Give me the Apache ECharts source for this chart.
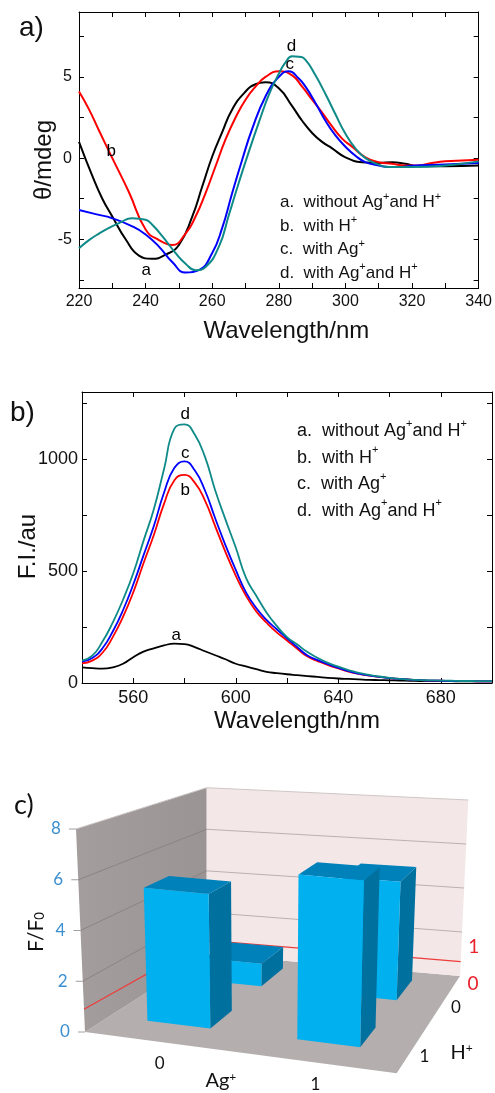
<!DOCTYPE html>
<html>
<head>
<meta charset="utf-8">
<script src="https://cdn.jsdelivr.net/npm/echarts@6/dist/echarts.min.js"></script>
<style>
html, body { margin: 0; padding: 0; background: #fff; }
#main { width: 495px; height: 1093px; }
</style>
</head>
<body>
<div id="main"></div>
<script>
// ---- a) CD spectra  [wavelength nm, theta mdeg]
var cdA = [[220,1.0],[224,-1.1],[227,-2.5],[230,-3.6],[234,-5.0],[238,-6.0],[242,-6.2],[246,-5.95],[250,-5.35],
  [254,-3.6],[257,-1.75],[260,0.1],[263,1.6],[266,3.0],[270,4.1],[273,4.55],[276,4.67],[280,4.3],[284,3.2],
  [287,2.3],[290,1.55],[293,1.0],[296,0.6],[300,0.05],[305,-0.25],[310,-0.3],[314,-0.25],[318,-0.35],[322,-0.5],
  [330,-0.5],[340,-0.45]];
var cdB = [[220,4.1],[223,3.0],[226,1.7],[230,0.0],[235,-2.1],[240,-4.4],[244,-5.05],[248,-5.35],[252,-4.65],
  [255,-3.6],[258,-2.15],[261,-0.5],[264,1.15],[267,2.5],[270,3.6],[273,4.4],[276,5.0],[280,5.35],[284,5.1],
  [287,4.4],[290,3.6],[293,2.8],[296,1.95],[299,1.2],[302,0.7],[306,0.05],[310,-0.25],[314,-0.35],[318,-0.45],
  [322,-0.45],[326,-0.3],[330,-0.2],[340,-0.1]];
var cdC = [[220,-3.2],[225,-3.45],[230,-3.7],[236,-4.2],[240,-4.7],[244,-5.45],[248,-6.4],[252,-7.05],[256,-6.9],
  [260,-5.85],[263,-4.3],[266,-2.15],[269,-0.1],[272,1.8],[276,3.8],[280,5.0],[283,5.35],[286,4.9],[288,4.4],
  [291,3.4],[294,2.3],[297,1.4],[300,0.7],[303,0.15],[306,-0.25],[310,-0.45],[313,-0.55],[316,-0.55],[320,-0.47],
  [330,-0.4],[340,-0.3]];
var cdD = [[220,-5.55],[223,-5.05],[226,-4.65],[229,-4.3],[232,-4.0],[236,-3.7],[240,-3.8],[242,-4.1],[245,-4.8],
  [249,-5.85],[252,-6.5],[255,-6.9],[258,-6.7],[262,-5.45],[265,-3.5],[268,-1.5],[271,0.4],[274,2.2],[277,3.9],
  [280,5.2],[282,5.9],[284,6.27],[286,6.25],[288,6.05],[291,5.1],[294,3.95],[297,2.7],[300,1.5],[303,0.6],
  [306,0.0],[310,-0.4],[313,-0.55],[316,-0.55],[320,-0.55],[330,-0.45],[340,-0.2]];
var cdTickX = [220,230,240,250,260,270,280,290,300,310,320,330,340];
var cdLabelX = [220,240,260,280,300,320,340];
var cdTickY = [-7.5,-5,-2.5,0,2.5,5,7.5];
var cdLabelY = [-5,0,5];

// ---- b) fluorescence spectra
var flWave = [540,544,548,552,556,560,564,568,572,576,580,584,588,592,596,600,604,608,612,616,620,
  624,628,632,636,640,644,648,652,656,660,664,668,672,676,680,684,688,692,696,700];
var flA = [70,66,64,70,86,115,140,155,168,176,174,160,142,124,106,86,74,62,50,44,39,
  35,31,27,23,20,18,16,14,13,12,11,10,9,9,8,8,7,7,7,7];
var flB = [88,100,135,205,295,405,535,660,800,905,930,895,815,700,585,480,390,320,270,226,190,
  153,118,98,80,65,51,41,33,27,22,18,15,13,11,10,9,8,8,7,7];
var flC = [95,112,155,230,325,440,570,700,850,960,990,950,860,735,615,505,405,335,282,240,200,
  160,123,102,84,68,53,42,34,27,22,18,15,13,11,10,9,8,8,7,7];
var flD = [100,122,185,270,372,490,635,775,955,1135,1155,1110,1010,860,730,605,470,390,315,255,205,
  172,138,112,90,73,58,45,36,29,23,18,15,13,12,11,10,9,9,8,8];
var flTickX = [540,560,580,600,620,640,660,680,700];
var flLabelX = [560,600,640,680];
var flTickY = [0,250,500,750,1000,1250];
var flLabelY = [0,500,1000];

// ---- c) F/F0 bars  [Ag+ index, H+ index, F/F0], back row first
var agCats = ['0', '1'];
var hCats = ['0', '1'];
var ratioValues = [[0, 0, 1.0], [1, 0, 5.1], [0, 1, 5.4], [1, 1, 6.5]];
var ratioTicks = [0, 2, 4, 6, 8];
var refLevel = [0.9, 0.65, 0.65];   // red line: front-left, back-left, back-right

var legendText = {
  a: 'a.  without Ag{s|+}and H{s|+}',
  b: 'b.  with H{s|+}',
  c: 'c.  with Ag{s|+}',
  d: 'd.  with Ag{s|+}and H{s|+}'
};
var colors = { a: '#000000', b: '#ff0000', c: '#0000ff', d: '#0e8a88' };

var FONT = 'Liberation Sans';
var FONT_C = 'Lato';

// 3D box seen in perspective: screen corners at value 0 and at value vMax
var vMax = 8;
var box = {
  bl0: [206.7, 954], bl8: [206.7, 787.7],
  br0: [460, 976], br8: [468.3, 800],
  fl0: [85, 1032], fl8: [76, 829],
  fr0: [396.7, 1073.3], fr8: [403, 858]
};
var barSize = 0.21, barShiftX = -0.02, barShiftZ = -0.06;

function proj(X, Z, v) {
  var t = v / vMax;
  function c(p0, p8) { return [p0[0] + (p8[0] - p0[0]) * t, p0[1] + (p8[1] - p0[1]) * t]; }
  var bl = c(box.bl0, box.bl8), br = c(box.br0, box.br8);
  var fl = c(box.fl0, box.fl8), fr = c(box.fr0, box.fr8);
  var back = [bl[0] + (br[0] - bl[0]) * X, bl[1] + (br[1] - bl[1]) * X];
  var front = [fl[0] + (fr[0] - fl[0]) * X, fl[1] + (fr[1] - fl[1]) * X];
  return [back[0] + (front[0] - back[0]) * Z, back[1] + (front[1] - back[1]) * Z];
}

var chart = echarts.init(document.getElementById('main'));

function lineSeries(name, data, xi, yi, lw, label) {
  return {
    name: name, type: 'line', xAxisIndex: xi, yAxisIndex: yi,
    data: data, smooth: true, showSymbol: false, symbol: 'none',
    lineStyle: { color: colors[name.slice(-1)], width: lw },
    itemStyle: { color: colors[name.slice(-1)] },
    animation: false,
    markPoint: {
      symbol: 'circle', symbolSize: 0, animation: false,
      label: { show: true, formatter: name.slice(-1), color: '#000', fontSize: 17, fontFamily: FONT },
      data: [{ coord: label }]
    }
  };
}

function pairs(ys) { return flWave.map(function (w, i) { return [w, ys[i]]; }); }

function boxAxisX(grid, min, max, ticks, labels, pos, name, gap, pad) {
  return {
    gridIndex: grid, type: 'value', min: min, max: max, position: pos,
    axisLine: { show: true, onZero: false, lineStyle: { color: '#000', width: 1 } },
    axisTick: { show: true, inside: true, length: 5, customValues: ticks, lineStyle: { color: '#000' } },
    axisLabel: labels ? { show: true, customValues: labels, margin: 6, color: '#111', fontSize: grid === 0 ? 16 : 18, fontFamily: FONT,
      formatter: function (v) { return String(v); } } : { show: false },
    splitLine: { show: false },
    name: name || '', nameLocation: 'middle', nameGap: gap || 0, nameMoveOverlap: false,
    nameTextStyle: { fontSize: 24, fontFamily: FONT, color: '#111', padding: pad || 0 }
  };
}
function boxAxisY(grid, min, max, ticks, labels, pos, name, gap, pad) {
  return {
    gridIndex: grid, type: 'value', min: min, max: max, position: pos,
    axisLine: { show: true, onZero: false, lineStyle: { color: '#000', width: 1 } },
    axisTick: { show: true, inside: true, length: 5, customValues: ticks, lineStyle: { color: '#000' } },
    axisLabel: labels ? { show: true, customValues: labels, margin: grid === 0 ? 7 : 4, color: '#111', fontSize: grid === 0 ? 16 : 18, fontFamily: FONT,
      formatter: function (v) { return String(v); } } : { show: false },
    splitLine: { show: false },
    name: name || '', nameLocation: 'middle', nameGap: gap || 0, nameRotate: 90, nameMoveOverlap: false,
    nameTextStyle: { fontSize: 24, fontFamily: FONT, color: '#111', padding: pad || 0 }
  };
}

function renderFrame(params, api) {
  function P(X, Z, v) { return api.coord(proj(X, Z, v)); }
  var ch = [];
  ch.push({ type: 'polygon', shape: { points: [P(0, 0, 0), P(1, 0, 0), P(1, 1, 0), P(0, 1, 0)] },
    style: { fill: '#b4aeae' } });
  ch.push({ type: 'polygon', shape: { points: [P(0, 1, 0), P(0, 0, 0), P(0, 0, vMax), P(0, 1, vMax)] },
    style: { fill: new echarts.graphic.LinearGradient(0, 0, 1, 0, [{ offset: 0, color: '#a39d9d' }, { offset: 1, color: '#9a9494' }]) } });
  ch.push({ type: 'polygon', shape: { points: [P(0, 0, 0), P(1, 0, 0), P(1, 0, vMax), P(0, 0, vMax)] },
    style: { fill: '#f3e7e7' } });
  ratioTicks.forEach(function (v) {
    if (v > 0) {
      ch.push({ type: 'polyline', shape: { points: [P(0, 1, v), P(0, 0, v)] }, style: { stroke: v === vMax ? '#c9c2c2' : '#8a8484', lineWidth: 1, fill: null } });
      ch.push({ type: 'polyline', shape: { points: [P(0, 0, v), P(1, 0, v)] }, style: { stroke: v === vMax ? '#cfc6c6' : '#bfb0b0', lineWidth: 1, fill: null } });
    }
    var e = P(0, 1, v);
    ch.push({ type: 'line', shape: { x1: e[0] - 7, y1: e[1], x2: e[0], y2: e[1] }, style: { stroke: '#a0a0a0', lineWidth: 1 } });
    ch.push({ type: 'text', x: e[0] - 20, y: e[1], style: { text: String(v), fill: '#3b8fd0', fontSize: 17, fontFamily: FONT_C, align: 'center', verticalAlign: 'middle' } });
  });
  ch.push({ type: 'polyline', shape: { points: [P(0, 1, refLevel[0]), P(0, 0, refLevel[1]), P(1, 0, refLevel[2])] },
    style: { stroke: '#ee3b3b', lineWidth: 1.2, fill: null } });
  var r1 = P(1, 0, refLevel[2]), r0 = P(1, 0, 0);
  ch.push({ type: 'text', x: r1[0] + 13, y: r1[1] - 15, style: { text: '1', fill: '#e8212b', fontSize: 19, fontFamily: FONT_C, align: 'center', verticalAlign: 'middle' } });
  ch.push({ type: 'text', x: r0[0] + 13, y: r0[1] + 8, style: { text: '0', fill: '#e8212b', fontSize: 19, fontFamily: FONT_C, align: 'center', verticalAlign: 'middle' } });
  agCats.forEach(function (c, i) {
    var p = P((i + 0.5) / agCats.length + barShiftX, 1, 0);
    ch.push({ type: 'text', x: p[0] + 3, y: p[1] + 22, style: { text: c, fill: '#111', fontSize: 17, fontFamily: FONT_C, align: 'center', verticalAlign: 'middle' } });
  });
  hCats.forEach(function (c, i) {
    var p = P(1, (i + 0.5) / hCats.length + barShiftZ, 0);
    ch.push({ type: 'text', x: p[0] + 8, y: p[1] + 13, style: { text: c, fill: '#111', fontSize: 17, fontFamily: FONT_C, align: 'center', verticalAlign: 'middle' } });
  });
  var pa = P(0.5, 1, 0), ph = P(1, 1, 0);
  var rich = { n: { fontSize: 20, fontFamily: FONT_C, fill: '#111' }, s: { fontSize: 12, fontFamily: FONT_C, fill: '#111', verticalAlign: 'top', lineHeight: 12 } };
  ch.push({ type: 'text', x: pa[0] - 20, y: pa[1] + 28, style: { text: '{n|Ag}{s|+}', rich: rich, align: 'center', verticalAlign: 'middle' } });
  ch.push({ type: 'text', x: ph[0] + 65, y: ph[1] - 21, style: { text: '{n|H}{s|+}', rich: rich, align: 'center', verticalAlign: 'middle' } });
  ch.push({ type: 'text', x: 36, y: 932, rotation: Math.PI / 2, style: { text: '{n|F/F}{s|0}',
    rich: { n: { fontSize: 21, fontFamily: FONT_C, fill: '#111' }, s: { fontSize: 13, fontFamily: FONT_C, fill: '#111', verticalAlign: 'bottom', lineHeight: 13 } },
    align: 'center', verticalAlign: 'middle' } });
  return { type: 'group', children: ch };
}

function renderBar(params, api) {
  var ag = api.value(0), h = api.value(1), v = api.value(2);
  var xc = (ag + 0.5) / agCats.length + barShiftX;
  var zc = (h + 0.5) / hCats.length + barShiftZ;
  var x0 = xc - barSize / 2, x1 = xc + barSize / 2, zb = zc - barSize / 2, zf = zc + barSize / 2;
  function P(X, Z, val) { return api.coord(proj(X, Z, val)); }
  return { type: 'group', children: [
    { type: 'polygon', shape: { points: [P(x1, zf, 0), P(x1, zb, 0), P(x1, zb, v), P(x1, zf, v)] }, style: { fill: '#00709f' } },
    { type: 'polygon', shape: { points: [P(x0, zf, v), P(x1, zf, v), P(x1, zb, v), P(x0, zb, v)] }, style: { fill: '#0081ba' } },
    { type: 'polygon', shape: { points: [P(x0, zf, 0), P(x1, zf, 0), P(x1, zf, v), P(x0, zf, v)] }, style: { fill: '#00b0ef' } }
  ] };
}

var legendFmt = function (n) { return legendText[n.slice(-1)]; };
var legendRich = { s: { fontSize: 11, verticalAlign: 'top', lineHeight: 12, fontFamily: FONT, color: '#111' } };

var option = {
  animation: false,
  title: [
    { text: 'a)', left: 14, top: 9, textStyle: { fontSize: 28, fontWeight: 'normal', fontFamily: FONT, color: '#111' } },
    { text: 'b)', left: 5, top: 394, textStyle: { fontSize: 28, fontWeight: 'normal', fontFamily: FONT, color: '#111' } },
    { text: 'c)', left: 9, top: 787, textStyle: { fontSize: 27, fontWeight: 'normal', fontFamily: FONT_C, color: '#111' } }
  ],
  legend: [
    { data: ['cd-a', 'cd-b', 'cd-c', 'cd-d'], orient: 'vertical', left: 270, top: 186, icon: 'none', itemWidth: 0, itemGap: 0,
      selectedMode: false, formatter: legendFmt, textStyle: { fontSize: 17, lineHeight: 23.5, color: '#111', fontFamily: FONT, rich: legendRich } },
    { data: ['fl-a', 'fl-b', 'fl-c', 'fl-d'], orient: 'vertical', left: 287, top: 413, icon: 'none', itemWidth: 0, itemGap: 0,
      selectedMode: false, formatter: legendFmt, textStyle: { fontSize: 18, lineHeight: 26.6, color: '#111', fontFamily: FONT, rich: legendRich } }
  ],
  grid: [
    { left: 79, top: 12, width: 403, height: 276 },
    { left: 82, top: 392, width: 410, height: 291 },
    { left: 0, top: 0, width: 495, height: 1093 }
  ],
  xAxis: [
    boxAxisX(0, 220, 340, cdTickX, cdLabelX, 'bottom', 'Wavelength/nm', 31, [0, 0, 0, 15]),
    boxAxisX(0, 220, 340, cdTickX, null, 'top'),
    boxAxisX(1, 540, 700, flTickX, flLabelX, 'bottom', 'Wavelength/nm', 26, [0, 0, 0, 20]),
    boxAxisX(1, 540, 700, flTickX, null, 'top'),
    { gridIndex: 2, type: 'value', min: 0, max: 495, show: false }
  ],
  yAxis: [
    boxAxisY(0, -8, 9, cdTickY, cdLabelY, 'left', 'θ/mdeg', 23, [0, 20, 0, 0]),
    boxAxisY(0, -8, 9, cdTickY, null, 'right'),
    boxAxisY(1, 0, 1300, flTickY, flLabelY, 'left', 'F.I./au', 42, [0, 18, 0, 0]),
    boxAxisY(1, 0, 1300, flTickY, null, 'right'),
    { gridIndex: 2, type: 'value', min: 0, max: 1093, inverse: true, show: false }
  ],
  series: [
    lineSeries('cd-a', cdA, 0, 0, 2, [240.2, -6.9]),
    lineSeries('cd-b', cdB, 0, 0, 2, [229.7, 0.4]),
    lineSeries('cd-c', cdC, 0, 0, 2, [283.3, 5.76]),
    lineSeries('cd-d', cdD, 0, 0, 2, [283.8, 6.9]),
    lineSeries('fl-a', pairs(flA), 2, 2, 1.8, [576.8, 214]),
    lineSeries('fl-b', pairs(flB), 2, 2, 1.8, [580.3, 863]),
    lineSeries('fl-c', pairs(flC), 2, 2, 1.8, [580.3, 1027]),
    lineSeries('fl-d', pairs(flD), 2, 2, 1.8, [580.3, 1199]),
    { type: 'custom', name: 'frame', xAxisIndex: 4, yAxisIndex: 4, clip: false, silent: true,
      data: [[0, 0]], renderItem: renderFrame, z: 1 },
    { type: 'custom', name: 'bars', xAxisIndex: 4, yAxisIndex: 4, clip: false, silent: true,
      data: ratioValues, renderItem: renderBar, z: 2 }
  ]
};
chart.setOption(option);
</script>
</body>
</html>
